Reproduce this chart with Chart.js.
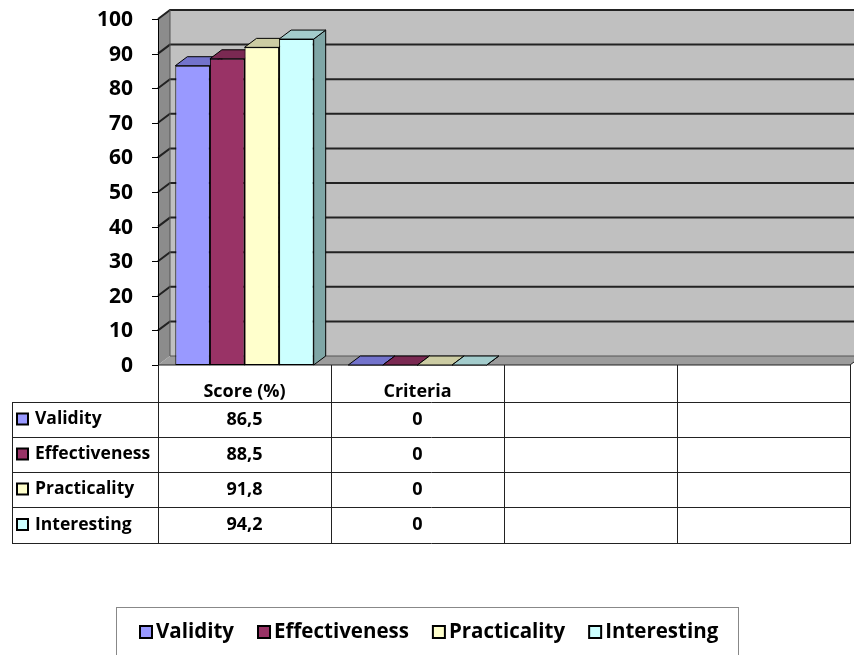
<!DOCTYPE html>
<html><head><meta charset="utf-8">
<script src="https://cdn.jsdelivr.net/npm/chart.js@4/dist/chart.umd.min.js"></script>
<style>html,body{margin:0;padding:0;background:#fff;overflow:hidden}</style>
</head><body>
<canvas id="c" width="854" height="655" style="width:854px;height:655px;display:block"></canvas>
<script>
// ---- data ----
const categories = ["Score (%)", "Criteria", "", ""];
const seriesNames = ["Validity", "Effectiveness", "Practicality", "Interesting"];
const validity = [86.5, 0, null, null];
const effectiveness = [88.5, 0, null, null];
const practicality = [91.8, 0, null, null];
const interesting = [94.2, 0, null, null];
const yTicks = [0, 10, 20, 30, 40, 50, 60, 70, 80, 90, 100];

// ---- styles ----
const frontColors = ["#9999FF", "#993366", "#FFFFCC", "#CCFFFF"];
const topColors = ["#7373CC", "#7A2952", "#CCCCA3", "#A3CCCC"];
const sideColors = ["#5C5CA3", "#5C1F3D", "#A3A37A", "#7FA6A6"];
const DX = 12, DY = -9;
const FONT = "'Open Sans', sans-serif";

const seriesValues = [validity, effectiveness, practicality, interesting];
function fmt(v){ return v === null ? "" : String(v).replace(".", ","); }

const scene3d = {
  id: "scene3d",
  beforeDatasetsDraw(chart) {
    const ctx = chart.ctx, a = chart.chartArea, ys = chart.scales.y;
    const y0 = ys.getPixelForValue(0), yTop = ys.getPixelForValue(100);
    ctx.save();
    // back wall
    ctx.fillStyle = "#C0C0C0";
    ctx.fillRect(a.left + DX, yTop + DY, 854 - (a.left + DX), y0 - yTop);
    // left side wall
    ctx.fillStyle = "#8C8C8C";
    ctx.beginPath();
    ctx.moveTo(a.left, yTop); ctx.lineTo(a.left + DX, yTop + DY);
    ctx.lineTo(a.left + DX, y0 + DY); ctx.lineTo(a.left, y0); ctx.closePath(); ctx.fill();
    // floor
    ctx.fillStyle = "#9C9C9C";
    ctx.beginPath();
    ctx.moveTo(a.left, y0); ctx.lineTo(a.right, y0);
    ctx.lineTo(a.right + DX, y0 + DY); ctx.lineTo(a.left + DX, y0 + DY); ctx.closePath(); ctx.fill();
    // gridlines
    ctx.strokeStyle = "#222"; ctx.lineWidth = 2;
    yTicks.forEach(t => {
      const y = ys.getPixelForValue(t);
      if (t > 0) {
        ctx.beginPath();
        ctx.moveTo(a.left, y); ctx.lineTo(a.left + DX, y + DY); ctx.lineTo(854, y + DY);
        ctx.stroke();
      }
    });
    // wall edges
    ctx.lineWidth = 1; ctx.strokeStyle = "#555";
    ctx.beginPath(); ctx.moveTo(a.left + DX, yTop + DY); ctx.lineTo(a.left + DX, y0 + DY); ctx.lineTo(854, y0 + DY); ctx.stroke();
    ctx.strokeStyle = "#222";
    ctx.beginPath(); ctx.moveTo(a.left, y0); ctx.lineTo(a.right, y0); ctx.lineTo(a.right + DX, y0 + DY); ctx.stroke();
    // axis line and ticks
    ctx.strokeStyle = "#000"; ctx.lineWidth = 1;
    ctx.beginPath(); ctx.moveTo(a.left + 0.5, yTop); ctx.lineTo(a.left + 0.5, y0); ctx.stroke();
    ctx.fillStyle = "#000";
    ctx.font = "bold 21px " + FONT;
    ctx.textAlign = "right"; ctx.textBaseline = "middle";
    yTicks.forEach(t => {
      const y = Math.round(ys.getPixelForValue(t)) + 0.5;
      ctx.beginPath(); ctx.moveTo(a.left - 6, y); ctx.lineTo(a.left, y); ctx.stroke();
      ctx.fillText(String(t), 133, y + 0.5);
    });
    // bar sides and tops (left to right)
    const bars = [];
    chart.data.datasets.forEach((ds, di) => {
      chart.getDatasetMeta(di).data.forEach((el, i) => {
        if (ds.data[i] === null) return;
        bars.push({el, di});
      });
    });
    bars.sort((p, q) => p.el.x - q.el.x);
    bars.forEach(({el, di}) => {
      const l = el.x - el.width / 2, r = el.x + el.width / 2, t = el.y, b = el.base;
      ctx.strokeStyle = "#000"; ctx.lineWidth = 1;
      ctx.fillStyle = sideColors[di];
      ctx.beginPath();
      ctx.moveTo(r, t); ctx.lineTo(r + DX, t + DY); ctx.lineTo(r + DX, b + DY); ctx.lineTo(r, b); ctx.closePath();
      ctx.fill(); ctx.stroke();
      ctx.fillStyle = topColors[di];
      ctx.beginPath();
      ctx.moveTo(l, t); ctx.lineTo(r, t); ctx.lineTo(r + DX, t + DY); ctx.lineTo(l + DX, t + DY); ctx.closePath();
      ctx.fill(); ctx.stroke();
    });
    ctx.restore();
  },
  afterDraw(chart) {
    const ctx = chart.ctx, a = chart.chartArea, xs = chart.scales.x;
    ctx.save();
    const colW = (a.right - a.left) / categories.length;
    const rows = [365, 402, 437, 472, 507, 543];
    const tableLeft = 12;
    ctx.strokeStyle = "#222"; ctx.lineWidth = 1;
    for (let i = 0; i <= categories.length; i++) {
      const x = Math.round(a.left + i * colW) + 0.5;
      ctx.beginPath(); ctx.moveTo(x, rows[0]); ctx.lineTo(x, rows[rows.length - 1]); ctx.stroke();
    }
    ctx.beginPath(); ctx.moveTo(tableLeft + 0.5, rows[1]); ctx.lineTo(tableLeft + 0.5, rows[rows.length - 1]); ctx.stroke();
    for (let r = 1; r < rows.length; r++) {
      ctx.beginPath(); ctx.moveTo(tableLeft, rows[r] + 0.5); ctx.lineTo(a.right + 1, rows[r] + 0.5); ctx.stroke();
    }
    ctx.fillStyle = "#000";
    ctx.font = "bold 18px " + FONT;
    ctx.textAlign = "center"; ctx.textBaseline = "middle";
    categories.forEach((c, i) => {
      ctx.fillText(c, xs.getPixelForValue(i), 392);
    });
    seriesNames.forEach((n, s) => {
      const cy = (rows[s + 1] + rows[s + 2]) / 2;
      ctx.fillStyle = frontColors[s];
      ctx.fillRect(17, cy - 6, 11, 11);
      ctx.strokeStyle = "#000"; ctx.lineWidth = 2;
      ctx.strokeRect(17, cy - 6, 11, 11);
      ctx.fillStyle = "#000";
      ctx.font = "bold 17.5px " + FONT;
      ctx.textAlign = "left";
      ctx.fillText(n, 35, cy);
      ctx.font = "bold 18px " + FONT;
      ctx.textAlign = "center";
      seriesValues[s].forEach((v, i) => {
        ctx.fillText(fmt(v), xs.getPixelForValue(i), cy);
      });
    });
    // legend
    ctx.strokeStyle = "#888"; ctx.lineWidth = 1;
    ctx.strokeRect(116.5, 607.5, 622, 60);
    ctx.font = "bold 20.5px " + FONT;
    ctx.textAlign = "left";
    let x = 140; const ly = 632;
    seriesNames.forEach((n, s) => {
      ctx.fillStyle = frontColors[s];
      ctx.fillRect(x, ly - 6, 12, 12);
      ctx.strokeStyle = "#000"; ctx.lineWidth = 2;
      ctx.strokeRect(x, ly - 6, 12, 12);
      ctx.fillStyle = "#000";
      ctx.fillText(n, x + 16, ly);
      x += 16 + ctx.measureText(n).width + 24;
    });
    ctx.restore();
  }
};

new Chart(document.getElementById("c"), {
  type: "bar",
  data: {
    labels: categories,
    datasets: seriesNames.map((n, s) => ({
      label: n,
      data: seriesValues[s],
      backgroundColor: frontColors[s],
      borderColor: "#000",
      borderWidth: 1,
      borderSkipped: false,
      barPercentage: 1,
      categoryPercentage: 0.8
    }))
  },
  options: {
    responsive: false,
    animation: false,
    devicePixelRatio: 1,
    layout: { padding: { left: 158, top: 19, right: 4, bottom: 290 } },
    plugins: { legend: { display: false }, tooltip: { enabled: false } },
    scales: {
      x: { display: false },
      y: { display: false, min: 0, max: 100 }
    }
  },
  plugins: [scene3d]
});
</script>
</body></html>
